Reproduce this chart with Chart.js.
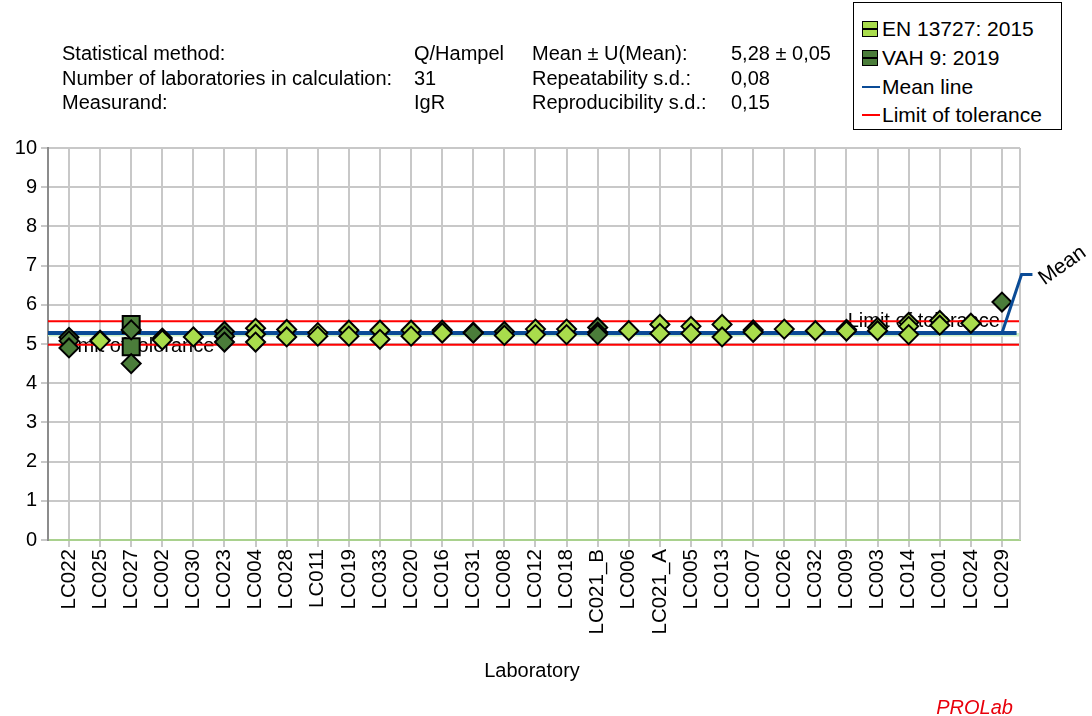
<!DOCTYPE html>
<html>
<head>
<meta charset="utf-8">
<script src="https://cdn.jsdelivr.net/npm/chart.js@4.4.1/dist/chart.umd.min.js"></script>
<style>
  body { margin: 0; background: #fff; font-family: "Liberation Sans", Arial, sans-serif; }
  #wrap { position: relative; width: 1092px; height: 716px; overflow: hidden; }
  #chart { position: absolute; left: 0; top: 0; }
  .t { position: absolute; font-size: 20px; line-height: 20px; white-space: nowrap; color: #000; }
  #legend { position: absolute; left: 853px; top: 2px; width: 209px; height: 128px; border: 1.5px solid #000; box-sizing: border-box; background: #fff; }
  #legend .row { position: absolute; left: 0; height: 20px; width: 100%; }
  #legend .lbl { position: absolute; left: 28px; top: 0; font-size: 21px; line-height: 20px; white-space: nowrap; }
  .sq { position: absolute; left: 8px; top: 2px; width: 16px; height: 16px; border: 1.5px solid #000; box-sizing: border-box; }
  .sq::after { content: ""; position: absolute; left: 0; right: 0; top: 5.5px; height: 2px; background: #000; }
  .ln { position: absolute; left: 8px; top: 9px; width: 18px; height: 2px; }
</style>
</head>
<body>
<div id="wrap">
  <canvas id="chart" width="1092" height="716"></canvas>

  <div class="t" style="left:62px; top:43px;">Statistical method:</div>
  <div class="t" style="left:62px; top:68px;">Number of laboratories in calculation:</div>
  <div class="t" style="left:62px; top:92px;">Measurand:</div>
  <div class="t" style="left:414px; top:43px;">Q/Hampel</div>
  <div class="t" style="left:414px; top:68px;">31</div>
  <div class="t" style="left:414px; top:92px;">IgR</div>
  <div class="t" style="left:532px; top:43px;">Mean ± U(Mean):</div>
  <div class="t" style="left:532px; top:68px;">Repeatability s.d.:</div>
  <div class="t" style="left:532px; top:92px;">Reproducibility s.d.:</div>
  <div class="t" style="left:731px; top:43px;">5,28 ± 0,05</div>
  <div class="t" style="left:731px; top:68px;">0,08</div>
  <div class="t" style="left:731px; top:92px;">0,15</div>

  <div id="legend">
    <div class="row" style="top:16px;"><div class="sq" style="background:#a9dc4c;"></div><div class="lbl">EN 13727: 2015</div></div>
    <div class="row" style="top:45px;"><div class="sq" style="background:#4b7d3a;"></div><div class="lbl">VAH 9: 2019</div></div>
    <div class="row" style="top:74px;"><div class="ln" style="background:#0a4b96;"></div><div class="lbl">Mean line</div></div>
    <div class="row" style="top:102px;"><div class="ln" style="background:#ff0000;"></div><div class="lbl">Limit of tolerance</div></div>
  </div>

  <div class="t" style="left:0; width:1064px; text-align:center; top:660px;">Laboratory</div>
  <div class="t" style="right:79px; top:697px; color:#e8000b; font-style:italic;">PROLab</div>
</div>

<script>
// laboratories in plotted order
const labs = ['LC022', 'LC025', 'LC027', 'LC002', 'LC030', 'LC023', 'LC004', 'LC028', 'LC011', 'LC019',
  'LC033', 'LC020', 'LC016', 'LC031', 'LC008', 'LC012', 'LC018', 'LC021_B', 'LC006', 'LC021_A',
  'LC005', 'LC013', 'LC007', 'LC026', 'LC032', 'LC009', 'LC003', 'LC014', 'LC001', 'LC024', 'LC029'];

// single results per lab, method EN 13727: 2015
const en13727 = [[], [5.1, 5.08], [], [5.15, 5.1], [5.18], [], [5.4, 5.25, 5.05], [5.37, 5.18], [5.29, 5.2], [5.35, 5.2],
  [5.35, 5.12], [5.35, 5.2], [5.35, 5.28], [], [5.22], [5.38, 5.24], [5.38, 5.24], [], [5.34], [5.5, 5.27],
  [5.45, 5.27], [5.5, 5.18], [5.36, 5.3], [5.38], [5.34], [5.37, 5.33], [5.42, 5.34], [5.55, 5.45, 5.24], [5.6, 5.48], [5.53], []];

// single results per lab, method VAH 9: 2019
const vah9 = [[5.17, 5.08, 4.9], [], [5.36, 4.5], [], [], [5.32, 5.2, 5.05], [], [], [], [],
  [], [], [], [5.3, 5.28], [5.32], [], [], [5.42, 5.3, 5.24], [], [],
  [], [], [], [], [], [], [], [], [], [], [6.07]];

// VAH 9 results drawn as squares
const vah9Square = [[], [], [5.5, 4.93], [], [], [], [], [], [], [], [], [], [], [], [], [],
  [], [], [], [], [], [], [], [], [], [], [], [], [], [], []];

const yTicks = [0, 1, 2, 3, 4, 5, 6, 7, 8, 9, 10];
const meanValue = 5.28;
const tolLow = 4.98;
const tolHigh = 5.58;
const meanBand = [5.19, 5.28];

const LIGHT = '#a9dc4c';
const DARK = '#4b7d3a';
const BLUE = '#0a4b96';
const FONT = '"Liberation Sans", Arial, sans-serif';

// x range in category units (leaves a margin either side of the first/last lab)
const xMin = -0.675;
const xMax = labs.length - 0.42;
const last = labs.length - 1;

const toPoints = (rows) => rows.flatMap((vals, i) => vals.map(v => ({ x: i, y: v })));

Chart.defaults.font.family = FONT;
Chart.defaults.font.size = 20;
Chart.defaults.color = '#000';

const extras = {
  id: 'extras',
  beforeDatasetsDraw(chart) {
    const { ctx, chartArea, scales: { x, y } } = chart;
    ctx.save();
    ctx.font = '20px ' + FONT;
    ctx.fillStyle = '#000';
    ctx.textBaseline = 'middle';
    ctx.textAlign = 'left';
    ctx.fillText('Limit of tolerance', chartArea.left + 14, y.getPixelForValue(tolLow) + 2);
    ctx.textAlign = 'right';
    ctx.fillText('Limit of tolerance', x.getPixelForValue(last) - 2, y.getPixelForValue(tolHigh));
    ctx.restore();
  },
  afterDraw(chart) {
    const { ctx, chartArea, scales: { x, y } } = chart;
    ctx.save();
    // right frame line
    ctx.strokeStyle = '#c8c8c8';
    ctx.lineWidth = 2;
    ctx.beginPath();
    ctx.moveTo(chartArea.right, chartArea.top);
    ctx.lineTo(chartArea.right, chartArea.bottom);
    ctx.stroke();
    // leader from the mean line to its label
    const lx0 = x.getPixelForValue(last), ly0 = y.getPixelForValue(meanValue);
    const lx1 = x.getPixelForValue(last + 0.63), ly1 = y.getPixelForValue(6.77);
    const lx2 = x.getPixelForValue(last + 0.98);
    ctx.strokeStyle = BLUE;
    ctx.lineWidth = 3;
    ctx.beginPath();
    ctx.moveTo(lx0, ly0);
    ctx.lineTo(lx1, ly1);
    ctx.lineTo(lx2, ly1);
    ctx.stroke();
    // rotated "Mean" label
    ctx.translate(lx2 + 12, ly1 + 11);
    ctx.rotate(-0.62);
    ctx.font = '21px ' + FONT;
    ctx.fillStyle = '#000';
    ctx.fillText('Mean', 0, 0);
    ctx.restore();
  }
};

const pointOpts = { borderColor: '#000', borderWidth: 2, pointRadius: 9.5, pointHoverRadius: 9.5 };

new Chart(document.getElementById('chart'), {
  type: 'scatter',
  data: {
    datasets: [
      { label: 'EN 13727: 2015', data: toPoints(en13727), backgroundColor: LIGHT, pointStyle: 'rectRot', order: 0, ...pointOpts },
      { label: 'VAH 9: 2019', data: toPoints(vah9), backgroundColor: DARK, pointStyle: 'rectRot', order: 1, ...pointOpts },
      { label: 'VAH 9: 2019 (sq)', data: toPoints(vah9Square), backgroundColor: DARK, pointStyle: 'rect', order: 2,
        borderColor: '#000', borderWidth: 2, pointRadius: 12, pointHoverRadius: 12 },
      { type: 'line', label: 'Limit low', data: [{ x: xMin, y: tolLow }, { x: xMax, y: tolLow }],
        borderColor: '#ff0000', borderWidth: 2, pointRadius: 0, order: 3 },
      { type: 'line', label: 'Limit high', data: [{ x: xMin, y: tolHigh }, { x: xMax, y: tolHigh }],
        borderColor: '#ff0000', borderWidth: 2, pointRadius: 0, order: 3 },
      { type: 'line', label: 'Mean line', data: [{ x: xMin, y: meanValue }, { x: last + 0.47, y: meanValue }],
        borderColor: BLUE, borderWidth: 4, pointRadius: 0, order: 4 },
      { type: 'line', label: 'Band', data: [{ x: xMin, y: meanBand[0] }, { x: xMax, y: meanBand[0] }],
        borderWidth: 0, pointRadius: 0, backgroundColor: '#cdf0c6', fill: { value: meanBand[1] }, order: 5 }
    ]
  },
  options: {
    responsive: false,
    devicePixelRatio: 1,
    animation: false,
    events: [],
    layout: { padding: { left: 0, right: 72, top: 148, bottom: 0 } },
    plugins: { legend: { display: false }, tooltip: { enabled: false } },
    scales: {
      x: {
        type: 'linear',
        min: xMin,
        max: xMax,
        afterFit: (s) => { s.height = 176; },
        grid: { color: '#c8c8c8', lineWidth: 2, tickLength: 7, drawTicks: true },
        border: { color: '#a9d18e', width: 2 },
        ticks: {
          stepSize: 1,
          includeBounds: false,
          autoSkip: false,
          minRotation: 90,
          maxRotation: 90,
          padding: 2,
          font: { size: 20.5 },
          callback: (v) => (Number.isInteger(v) && labs[v]) ? labs[v] : ''
        }
      },
      y: {
        min: yTicks[0],
        max: yTicks[yTicks.length - 1],
        afterFit: (s) => { s.width = 48; },
        grid: { color: '#c8c8c8', lineWidth: 2, tickLength: 7 },
        border: { color: '#8c8c8c', width: 2 },
        ticks: { stepSize: 1, padding: 4, font: { size: 20 } }
      }
    }
  },
  plugins: [extras]
});
</script>
</body>
</html>
